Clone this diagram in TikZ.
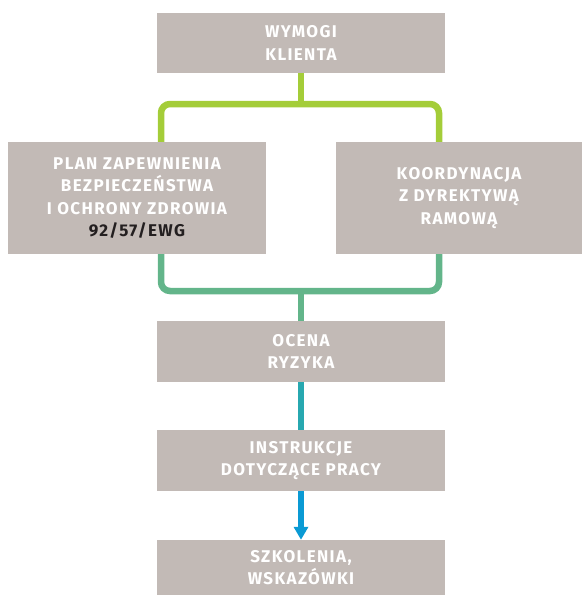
\documentclass[tikz,border=0pt]{standalone}
\usepackage{fontspec}
\usepackage{tikz}
\usetikzlibrary{arrows.meta}
\newfontfamily\boxfont[LetterSpace=8]{Fira Sans}
\definecolor{boxgray}{HTML}{C2BAB6}
\definecolor{limeline}{HTML}{A4CD39}
\definecolor{greenline}{HTML}{63B58A}
\definecolor{tealline}{HTML}{27A8B0}
\definecolor{blueline}{HTML}{0A9AD4}
\definecolor{darktext}{HTML}{231F20}

\begin{document}
\begin{tikzpicture}[x=1pt, y=-1pt,
  box/.style={rectangle, fill=boxgray, text=white, align=center, inner sep=0pt,
    font=\boxfont\bfseries\fontsize{17}{22.5}\selectfont},
  link/.style={line width=6.5pt, rounded corners=9pt},
  arrow/.style={link, -{Triangle[width=14pt,length=13pt]}}
]
\useasboundingbox (0,0) rectangle (582,595);

\node[box, minimum width=288pt, minimum height=60pt] (klient) at (301,43) {WYMOGI\\KLIENTA};
\node[box, minimum width=258pt, minimum height=112pt] (plan) at (137,198) {PLAN ZAPEWNIENIA\\BEZPIECZEŃSTWA\\I OCHRONY ZDROWIA\\\textcolor{darktext}{92/57/EWG}};
\node[box, minimum width=246pt, minimum height=112pt] (koord) at (459,198) {KOORDYNACJA\\Z DYREKTYWĄ\\RAMOWĄ};
\node[box, minimum width=288pt, minimum height=61pt] (ocena) at (301,351.5) {OCENA\\RYZYKA};
\node[box, minimum width=288pt, minimum height=61pt] (instr) at (301,460.5) {INSTRUKCJE\\DOTYCZĄCE PRACY};
\node[box, minimum width=288pt, minimum height=55pt] (szkol) at (301,567.5) {SZKOLENIA,\\WSKAZÓWKI};

\coordinate (topbar) at (301,104);
\coordinate (botbar) at (301,291);
\coordinate (splitL) at (161,0);
\coordinate (splitR) at (439,0);

\draw[link, limeline] (klient.south) -- (topbar);
\draw[link, limeline] (plan.north -| splitL) |- (topbar) -| (koord.north -| splitR);
\draw[link, greenline] (plan.south -| splitL) |- (botbar) -| (koord.south -| splitR);
\draw[link, greenline] (botbar) -- (ocena.north);
\draw[link, tealline] (ocena.south) -- (instr.north);
\draw[arrow, blueline] (instr.south) -- (szkol.north);

\end{tikzpicture}
\end{document}
